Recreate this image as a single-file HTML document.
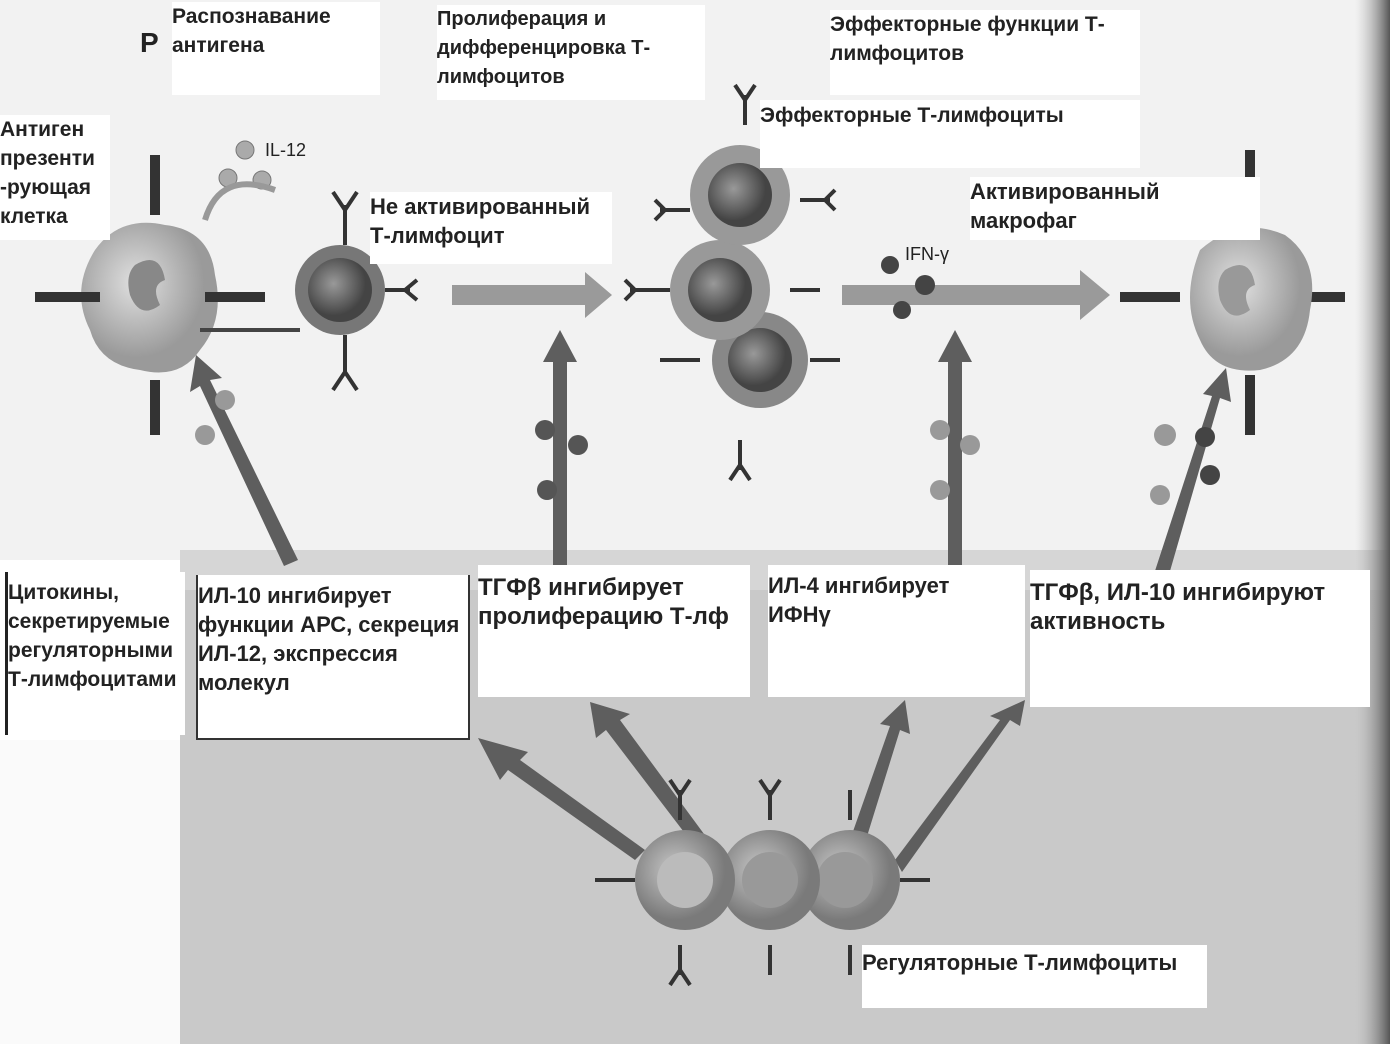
<!DOCTYPE html>
<html><head><meta charset="utf-8"><style>
html,body{margin:0;padding:0;width:1390px;height:1044px;overflow:hidden;background:#fff}
.t{position:absolute;background:#fff;font-family:"Liberation Sans","DejaVu Sans",sans-serif;font-weight:bold;font-size:22px;line-height:29px;color:#222;white-space:nowrap;overflow:hidden}
</style></head><body>
<svg width="1390" height="1044" style="position:absolute;left:0;top:0">
<defs>
<linearGradient id="rg" x1="0" x2="1"><stop offset="0" stop-color="#bbb" stop-opacity="0"/><stop offset="1" stop-color="#555"/></linearGradient>
<radialGradient id="cellL" cx="0.4" cy="0.4"><stop offset="0" stop-color="#e0e0e0"/><stop offset="1" stop-color="#9a9a9a"/></radialGradient>
<radialGradient id="cellD" cx="0.4" cy="0.4"><stop offset="0" stop-color="#999"/><stop offset="1" stop-color="#444"/></radialGradient>
<radialGradient id="cellM" cx="0.4" cy="0.4"><stop offset="0" stop-color="#c8c8c8"/><stop offset="1" stop-color="#7a7a7a"/></radialGradient>
</defs>
<rect x="0" y="0" width="1390" height="560" fill="#f2f2f2"/>
<rect x="180" y="550" width="1210" height="494" fill="#c9c9c9"/>
<rect x="180" y="550" width="1210" height="40" fill="#d6d6d6"/>
<rect x="1355" y="0" width="35" height="1044" fill="url(#rg)"/>
<rect x="0" y="740" width="180" height="304" fill="#fafafa"/>
<polygon points="452,285 585,285 585,272 612,295 585,318 585,305 452,305" fill="#9a9a9a"/>
<polygon points="842,285 1080,285 1080,270 1110,295 1080,320 1080,305 842,305" fill="#9a9a9a"/>
<g fill="#5e5e5e">
<rect x="553" y="360" width="14" height="205"/><polygon points="543,362 560,330 577,362"/>
<rect x="948" y="360" width="14" height="205"/><polygon points="938,362 955,330 972,362"/>
<polygon points="284,566 298,560 210,380 222,378 196,355 190,392 200,386"/>
<polygon points="1154,574 1168,578 1220,398 1231,402 1226,368 1203,394 1212,396"/>
<polygon points="635,860 645,850 520,760 528,752 478,738 500,780 508,770"/>
<polygon points="690,840 704,834 620,720 630,714 590,702 596,738 606,730"/>
<polygon points="850,840 864,846 900,730 910,734 905,700 880,724 890,726"/>
<polygon points="895,860 902,872 1010,720 1020,726 1025,700 990,716 1000,720"/>
</g>
<path d="M95,250 Q120,215 165,225 Q210,230 215,275 Q225,320 200,350 Q180,380 140,370 Q100,365 90,330 Q70,290 95,250Z" fill="url(#cellL)"/>
<path d="M135,265 q25,-15 30,15 q-15,5 -5,25 q-20,15 -30,-10 q-5,-20 5,-30z" fill="#888"/>
<g fill="#333"><rect x="150" y="155" width="10" height="60"/><rect x="150" y="380" width="10" height="55"/><rect x="35" y="292" width="65" height="10"/><rect x="205" y="292" width="60" height="10"/>
<rect x="1245" y="150" width="10" height="55"/><rect x="1245" y="375" width="10" height="60"/><rect x="1120" y="292" width="60" height="10"/><rect x="1300" y="292" width="45" height="10"/></g>
<line x1="200" y1="330" x2="300" y2="330" stroke="#444" stroke-width="4"/>
<g fill="#aaa" stroke="#777"><circle cx="245" cy="150" r="9"/><circle cx="228" cy="178" r="9"/><circle cx="262" cy="180" r="9"/></g>
<path d="M205,220 Q220,170 275,190" stroke="#999" stroke-width="6" fill="none"/>
<circle cx="340" cy="290" r="45" fill="#777"/><circle cx="340" cy="290" r="32" fill="url(#cellD)"/>
<g stroke="#333" stroke-width="4" fill="none">
<path d="M345,245 v-40 M345,210 l-12,-18 M345,210 l12,-18"/><path d="M345,335 v40 M345,372 l-12,18 M345,372 l12,18"/>
<path d="M385,290 h25 M405,290 l12,-10 M405,290 l12,10"/>
<path d="M745,125 v-30 M745,100 l-10,-15 M745,100 l10,-15"/><path d="M740,440 v30 M740,465 l-10,15 M740,465 l10,15"/>
<path d="M690,210 h-30 M665,210 l-10,-10 M665,210 l-10,10"/><path d="M800,200 h30 M825,200 l10,-10 M825,200 l10,10"/>
<path d="M670,290 h-40 M635,290 l-10,-10 M635,290 l-10,10"/><path d="M790,290 h30"/><path d="M700,360 h-40"/><path d="M810,360 h30"/>
<path d="M680,820 v-30 M680,795 l-10,-15 M680,795 l10,-15"/><path d="M770,820 v-30 M770,795 l-10,-15 M770,795 l10,-15"/><path d="M850,820 v-30"/>
<path d="M680,945 v30 M680,970 l-10,15 M680,970 l10,15"/><path d="M770,945 v30"/><path d="M850,945 v30"/>
<path d="M635,880 h-40"/><path d="M900,880 h30"/>
</g>
<circle cx="760" cy="360" r="48" fill="#888"/><circle cx="760" cy="360" r="32" fill="url(#cellD)"/>
<circle cx="720" cy="290" r="50" fill="#999"/><circle cx="720" cy="290" r="32" fill="url(#cellD)"/>
<circle cx="740" cy="195" r="50" fill="#999"/><circle cx="740" cy="195" r="32" fill="url(#cellD)"/>
<g fill="#444"><circle cx="890" cy="265" r="9"/><circle cx="925" cy="285" r="10"/><circle cx="902" cy="310" r="9"/></g>
<path d="M1200,250 Q1240,215 1285,235 Q1320,260 1310,310 Q1305,360 1260,370 Q1215,375 1200,340 Q1180,300 1200,250Z" fill="url(#cellL)"/>
<path d="M1225,270 q25,-15 30,15 q-15,5 -5,25 q-20,15 -30,-10 q-5,-20 5,-30z" fill="#999"/>
<g fill="#555"><circle cx="545" cy="430" r="10"/><circle cx="578" cy="445" r="10"/><circle cx="547" cy="490" r="10"/></g>
<g fill="#999"><circle cx="940" cy="430" r="10"/><circle cx="970" cy="445" r="10"/><circle cx="940" cy="490" r="10"/><circle cx="225" cy="400" r="10"/><circle cx="205" cy="435" r="10"/><circle cx="1165" cy="435" r="11"/><circle cx="1160" cy="495" r="10"/></g>
<g fill="#444"><circle cx="1205" cy="437" r="10"/><circle cx="1210" cy="475" r="10"/></g>
<circle cx="850" cy="880" r="50" fill="url(#cellM)"/><circle cx="845" cy="880" r="28" fill="#999"/>
<circle cx="770" cy="880" r="50" fill="url(#cellM)"/><circle cx="770" cy="880" r="28" fill="#999"/>
<circle cx="685" cy="880" r="50" fill="url(#cellM)"/><circle cx="685" cy="880" r="28" fill="#bbb"/>
</svg>
<div class="t" style="left:140px;top:28px;font-size:28px;background:none">Р</div>
<div class="t" style="left:172px;top:2px;width:208px;height:93px;font-size:21px">Распознавание<br>антигена</div>
<div class="t" style="left:437px;top:5px;width:268px;height:95px;font-size:20px">Пролиферация и<br>дифференцировка Т-<br>лимфоцитов</div>
<div class="t" style="left:830px;top:10px;width:310px;height:85px;font-size:21px">Эффекторные функции Т-<br>лимфоцитов</div>
<div class="t" style="left:0;top:115px;width:110px;height:125px;font-size:21px">Антиген<br>презенти<br>-рующая<br>клетка</div>
<div class="t" style="left:760px;top:100px;width:380px;height:68px;line-height:32px;font-size:21px">Эффекторные Т-лимфоциты</div>
<div class="t" style="left:370px;top:192px;width:242px;height:72px;font-size:22px">Не активированный<br>Т-лимфоцит</div>
<div class="t" style="left:970px;top:177px;width:290px;height:63px;font-size:22px">Активированный<br>макрофаг</div>
<div class="t" style="left:265px;top:136px;background:none;font-weight:normal;font-size:18px">IL-12</div>
<div class="t" style="left:905px;top:240px;background:none;font-weight:normal;font-size:18px">IFN-γ</div>
<div class="t" style="left:5px;top:572px;width:180px;height:163px;padding-top:6px;border-left:3px solid #222;box-sizing:border-box;font-size:21px">Цитокины,<br>секретируемые<br>регуляторными<br>Т-лимфоцитами</div>
<div class="t" style="left:196px;top:575px;width:274px;height:165px;padding-top:6px;box-sizing:border-box;border:2px solid #333;border-top:none;font-size:22px">ИЛ-10 ингибирует<br>функции АРС, секреция<br>ИЛ-12, экспрессия<br>молекул</div>
<div class="t" style="left:478px;top:565px;width:272px;height:132px;font-size:24px;padding-top:8px;box-sizing:border-box">ТГФβ ингибирует<br>пролиферацию Т-лф</div>
<div class="t" style="left:768px;top:565px;width:257px;height:132px;padding-top:6px;box-sizing:border-box;font-size:22px">ИЛ-4 ингибирует<br>ИФНγ</div>
<div class="t" style="left:1030px;top:570px;width:340px;height:137px;font-size:24px;padding-top:8px;box-sizing:border-box">ТГФβ, ИЛ-10 ингибируют<br>активность</div>
<div class="t" style="left:862px;top:945px;width:345px;height:63px;line-height:36px;font-size:22px">Регуляторные Т-лимфоциты</div>
</body></html>
